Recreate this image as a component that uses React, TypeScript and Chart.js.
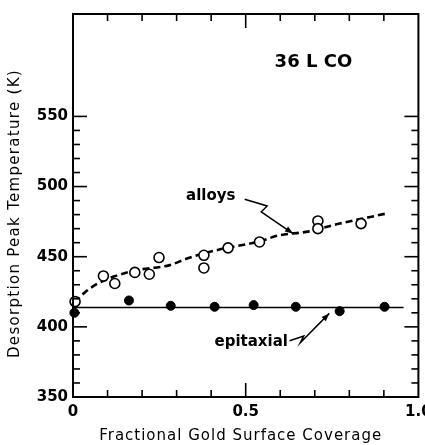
import { useEffect, useRef } from "react";
import { Chart, registerables } from "chart.js";

Chart.register(...registerables);

// Alloy surfaces (open circles)
const alloyCoverage = [0.006, 0.088, 0.121, 0.179, 0.221, 0.249, 0.379, 0.379, 0.449, 0.54, 0.709, 0.709, 0.834];
const alloyTemp = [418, 436.3, 430.9, 438.8, 437.5, 449.4, 451, 442, 456.3, 460.5, 475.5, 470, 473.6];

// Hand-drawn trend through the alloy data (dashed)
const alloyTrendCoverage = [0.005, 0.035, 0.07, 0.12, 0.184, 0.28, 0.332, 0.415, 0.54, 0.598, 0.675, 0.772, 0.906];
const alloyTrendTemp = [417.5, 424.7, 430.6, 436, 440.4, 444, 448.9, 454.6, 461, 465.3, 467.7, 473.6, 480.7];

// Epitaxial gold layers (filled circles)
const epiCoverage = [0.004, 0.162, 0.283, 0.41, 0.523, 0.645, 0.772, 0.902];
const epiTemp = [410, 418.8, 415, 414.3, 415.5, 414.3, 411.2, 414.3];

// Flat line through the epitaxial data
const epiLineCoverage = [0, 0.957];
const epiLineTemp = [413.8, 413.8];

// Axis ranges and labelled ticks
const xRange = [0, 1];
const yRange = [350, 623];
const xTickLabels: Record<string, string> = { "0": "0", "0.5": "0.5", "1": "1.0" };
const yTickLabels = [350, 400, 450, 500, 550];

const FONT = "'DejaVu Sans', sans-serif";

const pts = (xs: number[], ys: number[]) => xs.map((x, i) => ({ x, y: ys[i] }));

const framePlugin = {
  id: "frameAndNotes",
  afterDatasetsDraw(chart: any) {
    const { ctx, chartArea: a, scales } = chart;
    const xs = scales.x;
    const ys = scales.y;
    const X = (v: number) => xs.getPixelForValue(v);
    const Y = (v: number) => ys.getPixelForValue(v);
    const seg = (x1: number, y1: number, x2: number, y2: number) => {
      ctx.beginPath();
      ctx.moveTo(x1, y1);
      ctx.lineTo(x2, y2);
      ctx.stroke();
    };

    ctx.save();
    ctx.strokeStyle = "#000";
    ctx.fillStyle = "#000";

    // plot frame
    ctx.lineWidth = 2;
    ctx.strokeRect(a.left, a.top, a.right - a.left, a.bottom - a.top);

    // inward ticks, bottom & top
    ctx.lineWidth = 1.6;
    const xTickValues: number[] = xs.ticks.map((t: any) => Number(t.value));
    xTickValues.forEach((v) => {
      if (v <= 0.001 || v >= 0.999) return;
      const major = Math.abs(v - 0.5) < 1e-6;
      const len = major ? 14 : 7;
      const px = X(v);
      seg(px, a.bottom, px, a.bottom - len);
      seg(px, a.top, px, a.top + len);
    });

    // inward ticks, left & right: only across the labelled span
    const yLo = yTickLabels[0];
    const yHi = yTickLabels[yTickLabels.length - 1];
    const yTickValues: number[] = ys.ticks
      .map((t: any) => Number(t.value))
      .filter((v: number) => v > yLo + 0.5 && v < yHi + 0.5);
    yTickValues.forEach((v) => {
      const major = yTickLabels.some((l) => Math.abs(l - v) < 1e-6);
      const len = major ? 14 : 7;
      const py = Y(v);
      seg(a.left, py, a.left + len, py);
      seg(a.right, py, a.right - len, py);
    });

    // axis titles
    ctx.letterSpacing = "1px";
    ctx.font = `15px ${FONT}`;
    ctx.textAlign = "center";
    ctx.textBaseline = "middle";
    ctx.fillText("Fractional Gold Surface Coverage", (a.left + a.right) / 2 - 5, a.bottom + 39);
    ctx.letterSpacing = "1.3px";
    ctx.save();
    ctx.translate(15, (a.top + a.bottom) / 2 + 8);
    ctx.rotate(-Math.PI / 2);
    ctx.fillText("Desorption Peak Temperature (K)", 0, 0);
    ctx.restore();

    // notes
    ctx.letterSpacing = "0px";
    ctx.font = `bold 18px ${FONT}`;
    ctx.fillText("36 L CO", X(0.696), Y(588.4));
    ctx.font = `bold 15px ${FONT}`;
    ctx.fillText("alloys", X(0.399), Y(493));
    ctx.fillText("epitaxial", X(0.516), Y(389.4));

    // squiggly pointers
    const pointer = (path: number[][]) => {
      ctx.lineWidth = 1.5;
      ctx.beginPath();
      path.forEach(([vx, vy], i) => {
        const px = X(vx);
        const py = Y(vy);
        if (i === 0) ctx.moveTo(px, py);
        else ctx.lineTo(px, py);
      });
      ctx.stroke();
      const [tx, ty] = path[path.length - 1];
      const [fx, fy] = path[path.length - 2];
      const ex = X(tx), ey = Y(ty), sx = X(fx), sy = Y(fy);
      const ang = Math.atan2(ey - sy, ex - sx);
      const L = 8, W = 3;
      ctx.beginPath();
      ctx.moveTo(ex, ey);
      ctx.lineTo(ex - L * Math.cos(ang) + W * Math.sin(ang), ey - L * Math.sin(ang) - W * Math.cos(ang));
      ctx.lineTo(ex - L * Math.cos(ang) - W * Math.sin(ang), ey - L * Math.sin(ang) + W * Math.cos(ang));
      ctx.closePath();
      ctx.fill();
    };
    pointer([
      [0.497, 490.9],
      [0.562, 486.2],
      [0.545, 481.9],
      [0.637, 466.5],
    ]);
    pointer([
      [0.627, 390.1],
      [0.668, 393.4],
      [0.658, 388.6],
      [0.742, 409.6],
    ]);

    ctx.restore();
  },
};

export default function App() {
  const ref = useRef<HTMLCanvasElement | null>(null);

  useEffect(() => {
    if (!ref.current) return;
    const chart = new Chart(ref.current, {
      type: "scatter",
      data: {
        datasets: [
          {
            label: "alloys",
            data: pts(alloyCoverage, alloyTemp),
            pointRadius: 5,
            pointBackgroundColor: "#fff",
            pointBorderColor: "#000",
            pointBorderWidth: 1.6,
            showLine: false,
            clip: false,
          },
          {
            label: "epitaxial",
            data: pts(epiCoverage, epiTemp),
            pointRadius: 4.5,
            pointBackgroundColor: "#000",
            pointBorderColor: "#000",
            pointBorderWidth: 1,
            showLine: false,
            clip: false,
          },
          {
            label: "alloy trend",
            data: pts(alloyTrendCoverage, alloyTrendTemp),
            showLine: true,
            borderColor: "#000",
            borderWidth: 2.6,
            borderDash: [7, 4],
            pointRadius: 0,
            cubicInterpolationMode: "monotone",
            clip: false,
          },
          {
            label: "epitaxial level",
            data: pts(epiLineCoverage, epiLineTemp),
            showLine: true,
            borderColor: "#000",
            borderWidth: 1.5,
            pointRadius: 0,
            clip: false,
          },
        ],
      },
      options: {
        animation: false,
        responsive: true,
        maintainAspectRatio: false,
        layout: { padding: { top: 14, right: 6, left: 0, bottom: 0 } },
        plugins: { legend: { display: false }, tooltip: { enabled: false } },
        scales: {
          x: {
            type: "linear",
            min: xRange[0],
            max: xRange[1],
            grid: { display: false, drawTicks: false },
            border: { display: false },
            ticks: {
              stepSize: 0.1,
              autoSkip: false,
              maxRotation: 0,
              padding: 6,
              color: "#000",
              font: { family: FONT, size: 15, weight: "bold" },
              callback: (v: any) => {
                const key = String(Math.round(Number(v) * 10) / 10);
                return xTickLabels[key] ?? "";
              },
            },
            afterFit: (s: any) => {
              s.height = 48;
              s.paddingLeft = 0;
              s.paddingRight = 0;
            },
          },
          y: {
            type: "linear",
            min: yRange[0],
            max: yRange[1],
            grid: { display: false, drawTicks: false },
            border: { display: false },
            ticks: {
              stepSize: 10,
              autoSkip: false,
              padding: 5,
              color: "#000",
              font: { family: FONT, size: 15, weight: "bold" },
              callback: (v: any) => (yTickLabels.includes(Number(v)) ? String(v) : ""),
            },
            afterFit: (s: any) => {
              s.width = 73;
              s.paddingTop = 0;
              s.paddingBottom = 0;
            },
          },
        },
      },
      plugins: [framePlugin],
    } as any);
    return () => chart.destroy();
  }, []);

  return (
    <div style={{ position: "absolute", left: 0, top: 0, width: 425, height: 445, background: "#fff" }}>
      <canvas ref={ref} />
    </div>
  );
}
